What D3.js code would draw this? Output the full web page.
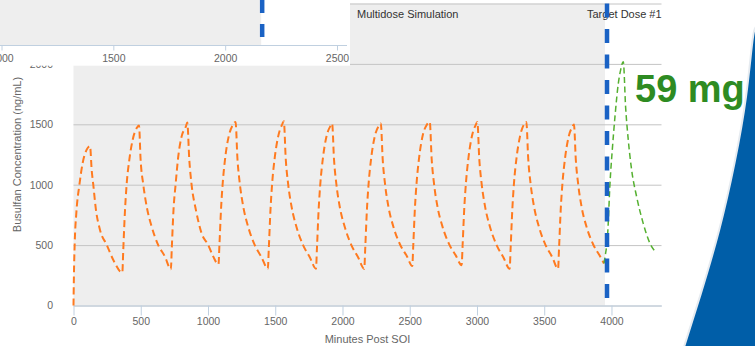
<!DOCTYPE html>
<html>
<head>
<meta charset="utf-8">
<script src="https://cdn.jsdelivr.net/npm/d3@7"></script>
<style>
  body { margin: 0; background: #fff; }
  svg { display: block; font-family: "Liberation Sans", Arial, sans-serif; }
</style>
</head>
<body>
<script>
// values: [minutes post SOI, ng/mL]
var multidose = [
  [0,0],[3,239],[9,516],[21,765],[44,1000],[68,1179],[98,1290],[123,1320],
  [135,1124],[147,1000],[167,792],[197,626],[247,502],[296,377],[363,272],
  [370,460],[383,790],[395,1000],[415,1206],[440,1372],[470,1469],[487,1490],
  [499,1206],[519,1000],[544,820],[581,654],[630,500],[680,405],[724,300],
  [731,480],[744,800],[759,1000],[779,1234],[804,1400],[836,1483],[846,1515],
  [861,1206],[878,1000],[910,792],[952,599],[1002,500],[1039,405],[1078,340],
  [1085,500],[1098,820],[1110,1020],[1130,1240],[1155,1405],[1185,1495],[1205,1520],
  [1219,1215],[1237,1005],[1262,820],[1299,650],[1348,500],[1398,400],[1445,304],
  [1452,470],[1465,800],[1477,1010],[1497,1230],[1522,1400],[1552,1500],[1564,1526],
  [1578,1215],[1596,1005],[1621,820],[1658,650],[1707,500],[1757,400],[1803,304],
  [1810,470],[1823,800],[1835,1005],[1855,1225],[1880,1395],[1910,1485],[1923,1507],
  [1937,1210],[1955,1000],[1980,815],[2017,650],[2066,500],[2116,400],[2162,304],
  [2169,470],[2182,800],[2194,1005],[2214,1225],[2239,1395],[2269,1485],[2285,1507],
  [2299,1210],[2317,1000],[2342,815],[2379,650],[2428,505],[2478,410],[2519,326],
  [2526,490],[2539,815],[2551,1015],[2571,1235],[2596,1405],[2626,1495],[2649,1520],
  [2663,1215],[2681,1005],[2706,820],[2743,655],[2792,510],[2842,415],[2886,334],
  [2893,495],[2906,815],[2918,1015],[2938,1235],[2963,1405],[2993,1500],[3003,1520],
  [3017,1215],[3035,1005],[3060,820],[3097,650],[3146,500],[3196,400],[3243,304],
  [3250,470],[3263,800],[3275,1010],[3295,1230],[3320,1400],[3350,1500],[3367,1520],
  [3381,1215],[3399,1005],[3424,820],[3461,650],[3510,500],[3560,400],[3603,304],
  [3610,470],[3623,800],[3635,1005],[3655,1220],[3680,1390],[3710,1480],[3721,1498],
  [3735,1205],[3753,1000],[3778,815],[3815,650],[3864,505],[3914,410],[3944,348]
];

var targetDose = [
  [3944,348],[3955,420],[3972,598],[3989,1011],[4006,1287],[4026,1563],[4051,1839],
  [4068,1949],[4088,2018],[4105,1646],[4125,1370],[4150,1122],[4187,901],[4236,680],
  [4286,515],[4331,440]
];

var xTicks = [0, 500, 1000, 1500, 2000, 2500, 3000, 3500, 4000];
var yTicks = [0, 500, 1000, 1500, 2000, 2500];
var stripTicks = [1000, 1500, 2000, 2500];
var targetStart = 3952;
var doseLabel = "59 mg";

var W = 755, H = 346;
var fmt = d3.format("d");
var svg = d3.select("body").append("svg")
  .attr("width", W)
  .attr("height", H);

var x = d3.scaleLinear().domain([0, 4372]).range([73.5, 661.5]);
var y = d3.scaleLinear().domain([0, 2500]).range([305.5, 3.5]);

// plot band for the simulated doses
svg.append("rect")
  .attr("x", x(0))
  .attr("y", y(2500))
  .attr("width", x(targetStart) - x(0))
  .attr("height", y(0) - y(2500))
  .attr("fill", "#eeeeee");

// y grid + labels
var yAxis = svg.append("g")
  .attr("transform", "translate(" + x(0) + ",0)")
  .call(d3.axisLeft(y).tickValues(yTicks).tickFormat(fmt)
    .tickSize(-(x.range()[1] - x.range()[0])).tickPadding(20.5));
yAxis.select(".domain").remove();
yAxis.selectAll(".tick line").attr("stroke", "#c4c4c4");
yAxis.selectAll(".tick text")
  .attr("fill", "#666")
  .style("font-size", "10.5px")
  .style("font-family", "Liberation Sans, Arial, sans-serif");

svg.append("text")
  .attr("transform", "translate(17," + ((y(0) + y(2500)) / 2) + ") rotate(-90)")
  .attr("text-anchor", "middle")
  .attr("dy", "0.35em")
  .attr("fill", "#666")
  .style("font-size", "11px")
  .text("Busulfan Concentration (ng/mL)");

// x axis
var xAxis = svg.append("g")
  .attr("transform", "translate(0," + y(0) + ")")
  .call(d3.axisBottom(x).tickValues(xTicks).tickFormat(fmt)
    .tickSize(10).tickPadding(2).tickSizeOuter(0));
xAxis.select(".domain").attr("stroke", "#c0d0e0");
xAxis.selectAll(".tick line").attr("stroke", "#c0d0e0");
xAxis.selectAll(".tick text")
  .attr("fill", "#666")
  .style("font-size", "10.5px")
  .style("font-family", "Liberation Sans, Arial, sans-serif");

svg.append("text")
  .attr("x", (x.range()[0] + x.range()[1]) / 2)
  .attr("y", 343)
  .attr("text-anchor", "middle")
  .attr("fill", "#666")
  .style("font-size", "11px")
  .text("Minutes Post SOI");

svg.append("text")
  .attr("x", 357)
  .attr("y", 18.3)
  .attr("fill", "#333")
  .style("font-size", "11px")
  .text("Multidose Simulation");

svg.append("text")
  .attr("x", 587)
  .attr("y", 18.3)
  .attr("fill", "#333")
  .style("font-size", "11px")
  .text("Target Dose #1");

var line = d3.line()
  .x(function(d) { return x(d[0]); })
  .y(function(d) { return y(d[1]); })
  .curve(d3.curveMonotoneX);

svg.append("path")
  .datum(multidose)
  .attr("d", line)
  .attr("fill", "none")
  .attr("stroke", "#ff7a1f")
  .attr("stroke-width", 2)
  .attr("stroke-dasharray", "7,4");

svg.append("path")
  .datum(targetDose)
  .attr("d", line)
  .attr("fill", "none")
  .attr("stroke", "#55b030")
  .attr("stroke-width", 1.5)
  .attr("stroke-dasharray", "6,3.5");

// target dose marker
svg.append("line")
  .attr("x1", x(targetStart) + 2).attr("x2", x(targetStart) + 2)
  .attr("y1", y(2500)).attr("y2", y(0))
  .attr("stroke", "#1a62c4")
  .attr("stroke-width", 4.5)
  .attr("stroke-dasharray", "14,11.5");

// overlapping strip of the previous chart (top left)
var strip = svg.append("g");
strip.append("rect").attr("x", 0).attr("y", 0).attr("width", 350).attr("height", 65.7).attr("fill", "#fff");
var sx = d3.scaleLinear().domain([1000, 2500]).range([1.5, 337]);
strip.append("rect").attr("x", 0).attr("y", 0).attr("width", sx(2161)).attr("height", 45).attr("fill", "#eeeeee");
var sAxis = strip.append("g")
  .attr("transform", "translate(0,45.5)")
  .call(d3.axisBottom(sx).tickValues(stripTicks).tickFormat(fmt)
    .tickSize(5).tickPadding(4).tickSizeOuter(0));
sAxis.select(".domain").attr("d", "M0,0H347").attr("stroke", "#c0d0e0");
sAxis.selectAll(".tick line").attr("stroke", "#c0d0e0");
sAxis.selectAll(".tick text")
  .attr("fill", "#666")
  .style("font-size", "10.5px")
  .style("font-family", "Liberation Sans, Arial, sans-serif");
strip.append("line")
  .attr("x1", sx(2161) + 1).attr("x2", sx(2161) + 1)
  .attr("y1", 0).attr("y2", 45)
  .attr("stroke", "#1a62c4")
  .attr("stroke-width", 4.5)
  .attr("stroke-dasharray", "13,11");

// dose text
svg.append("text")
  .attr("x", 635)
  .attr("y", 102)
  .attr("fill", "#2e8b22")
  .style("font-size", "38px")
  .style("font-weight", "bold")
  .text(doseLabel);

// blue swoosh, bottom right
var edge = [[756, 27], [753, 30], [747, 97], [735, 163], [720, 230], [700, 297], [684, 347]];
var edgePath = d3.line().curve(d3.curveBasis)(edge);
svg.append("path")
  .attr("d", edgePath + "L756,347Z")
  .attr("fill", "#005ea8")
  .attr("stroke", "#e6ebf0")
  .attr("stroke-width", 2);
</script>
</body>
</html>
